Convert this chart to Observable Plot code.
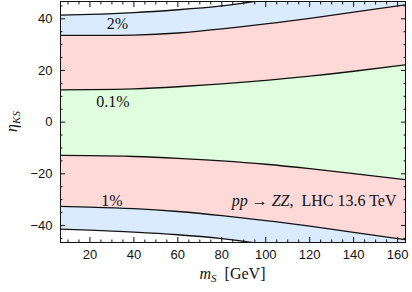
<!DOCTYPE html>
<html><head><meta charset="utf-8">
<script src="https://cdn.jsdelivr.net/npm/d3@7"></script>
<script src="https://cdn.jsdelivr.net/npm/@observablehq/plot@0.6"></script>
<style>body{margin:0;background:#fff} svg{display:block}</style>
</head><body><div id="chart"></div>
<script>
// m_S [GeV] sample points
const mS = [6.6, 20, 40, 60, 80, 100, 120, 140, 163.6];
// boundary between 0.1% (green) and 1% (red)
const greenUpper = [12.5, 12.6, 12.9, 13.7, 14.8, 16.2, 17.8, 19.7, 22.2];
const greenLower = [-12.9, -13.0, -13.3, -14.0, -15.0, -16.3, -18.0, -19.9, -22.3];
// boundary between 1% (red) and 2% (blue)
const redUpper = [33.6, 33.6, 33.7, 34.5, 36.1, 38.0, 40.2, 42.6, 45.4];
const redLower = [-32.6, -32.9, -33.5, -34.6, -36.2, -38.1, -40.3, -42.7, -45.5];
// outer boundary of 2% (blue)
const blueUpper = [41.4, 41.7, 42.4, 43.5, 45.0, 47.4, 50.3, 53.6, 58.0];
const blueLower = [-41.4, -41.8, -42.6, -43.6, -45.1, -47.4, -50.3, -53.6, -58.0];

const xMajor = [20, 40, 60, 80, 100, 120, 140, 160];
const yMajor = [-40, -20, 0, 20, 40];
const xMinor = d3.range(10, 165, 5).filter(v => v % 20 !== 0);
const yMinor = d3.range(-45, 50, 5).filter(v => v % 20 !== 0);

const bandLabels = ["2%", "0.1%", "1%"];
const bandLabelM = [32.5, 30.5, 30];
const bandLabelEta = [38, 8, -30.3];
const processText = "pp → ZZ, LHC 13.6 TeV";

const rows = mS.map((m, i) => ({m, gU: greenUpper[i], gL: greenLower[i], rU: redUpper[i], rL: redLower[i], bU: blueUpper[i], bL: blueLower[i]}));
const labelRows = bandLabels.map((t, i) => ({t, m: bandLabelM[i], eta: bandLabelEta[i]}));

const GREEN = "#dffede", RED = "#ffd8d8", BLUE = "#dbebff";
const curve = "natural";
const serif = "'Liberation Serif', 'DejaVu Serif', serif";

const band = (y1, y2, fill) => Plot.areaY(rows, {x: "m", y1, y2, fill, curve, clip: true});
const edge = (y) => Plot.lineY(rows, {x: "m", y, stroke: "#111", strokeWidth: 1.3, curve, clip: true});
const noText = () => "";

const chart = Plot.plot({
  width: 412, height: 292,
  marginLeft: 60, marginRight: 7, marginTop: 1, marginBottom: 50,
  x: {domain: [6.6, 163.6]},
  y: {domain: [-46.6, 46.7]},
  style: {fontFamily: "'Liberation Sans', Arial, sans-serif", fontSize: "13px", color: "#111", background: "white"},
  marks: [
    band("gL", "gU", GREEN),
    band("gU", "rU", RED),
    band("rL", "gL", RED),
    band("rU", "bU", BLUE),
    band("bL", "rL", BLUE),
    edge("gU"), edge("gL"), edge("rU"), edge("rL"), edge("bU"), edge("bL"),
    Plot.text(labelRows, {x: "m", y: "eta", text: "t", fontFamily: serif, fontSize: 16, fill: "#111"}),
    Plot.text([processText], {x: () => 159.5, y: () => -30.3, text: d => d, textAnchor: "end", fontFamily: serif, fontSize: 16, fill: "#111", className: "proc"}),
    Plot.axisX(xMajor, {anchor: "bottom", tickSize: 0, tickPadding: 7, label: null}),
    Plot.axisX(xMajor, {anchor: "bottom", tickSize: -5, tickFormat: noText, label: null}),
    Plot.axisX(xMajor, {anchor: "top", tickSize: -5, tickFormat: noText, label: null}),
    Plot.axisX(xMinor, {anchor: "bottom", tickSize: -2.5, tickFormat: noText, label: null}),
    Plot.axisX(xMinor, {anchor: "top", tickSize: -2.5, tickFormat: noText, label: null}),
    Plot.axisY(yMajor, {anchor: "left", tickSize: 0, tickPadding: 8, label: null}),
    Plot.axisY(yMajor, {anchor: "left", tickSize: -5, tickFormat: noText, label: null}),
    Plot.axisY(yMajor, {anchor: "right", tickSize: -5, tickFormat: noText, label: null}),
    Plot.axisY(yMinor, {anchor: "left", tickSize: -2.5, tickFormat: noText, label: null}),
    Plot.axisY(yMinor, {anchor: "right", tickSize: -2.5, tickFormat: noText, label: null}),
    Plot.frame({stroke: "#111", strokeWidth: 1})
  ]
});
document.getElementById("chart").append(chart);

// Rich text: process annotation with italic math parts
d3.select(chart).selectAll("g.proc text").each(function() {
  const t = d3.select(this);
  t.text(null);
  const parts = [["pp", true], [" → ", false], ["ZZ", true], [",\u2002LHC 13.6 TeV", false]];
  parts.forEach(([s, it]) => t.append("tspan").attr("font-style", it ? "italic" : "normal").text(s));
});

const xs = chart.scale("x"), ys = chart.scale("y");
const svg = d3.select(chart);
// y axis title: eta_KS
const yt = svg.append("text")
  .attr("transform", `translate(17,${(ys.range[0] + ys.range[1]) / 2}) rotate(-90)`)
  .attr("text-anchor", "middle").attr("font-family", serif).attr("font-size", 16).attr("fill", "#111");
yt.append("tspan").attr("font-style", "italic").text("η");
yt.append("tspan").attr("font-style", "italic").attr("font-size", 11).attr("dy", 3).text("KS");
// x axis title: m_S [GeV]
const xt = svg.append("text")
  .attr("x", (xs.range[0] + xs.range[1]) / 2).attr("y", 279)
  .attr("text-anchor", "middle").attr("font-family", serif).attr("font-size", 16).attr("fill", "#111");
xt.append("tspan").attr("font-style", "italic").text("m");
xt.append("tspan").attr("font-style", "italic").attr("font-size", 11).attr("dy", 3).text("S");
xt.append("tspan").attr("dy", -3).text("\u2002[GeV]");
</script>
</body></html>
